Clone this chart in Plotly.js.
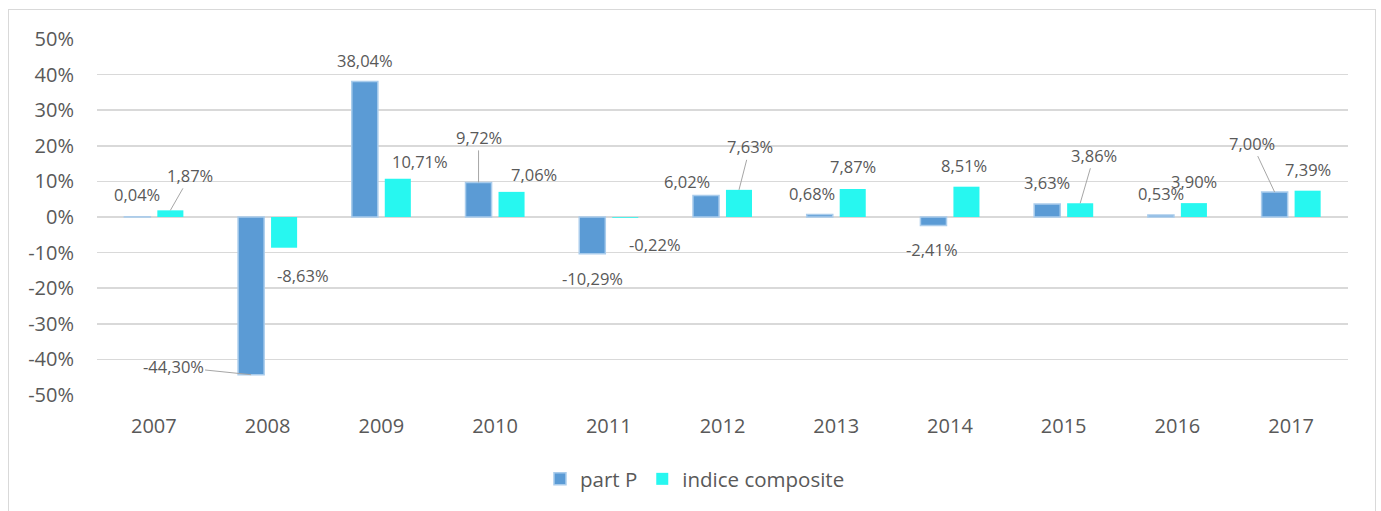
<!DOCTYPE html>
<html>
<head>
<meta charset="utf-8">
<script src="https://cdn.plot.ly/plotly-3.0.1.min.js"></script>
<style>
  html, body { margin: 0; padding: 0; background: #ffffff; }
  #frame { position: absolute; left: 8px; top: 9px; width: 1368px; height: 520px; border: 1.5px solid #D9D9D9; box-sizing: border-box; }
  #chart { position: absolute; left: 0; top: 0; width: 1381px; height: 511px; }
</style>
</head>
<body>
<div id="frame"></div>
<div id="chart"></div>
<script>
// ---- data ----
const years = ['2007','2008','2009','2010','2011','2012','2013','2014','2015','2016','2017'];
const partP = [0.04, -44.30, 38.04, 9.72, -10.29, 6.02, 0.68, -2.41, 3.63, 0.53, 7.00];
const indiceComposite = [1.87, -8.63, 10.71, 7.06, -0.22, 7.63, 7.87, 8.51, 3.86, 3.90, 7.39];
const yTicks = [-50, -40, -30, -20, -10, 0, 10, 20, 30, 40, 50];
const seriesNames = ['part P', 'indice composite'];

// ---- label placement (layout only) ----
// [ax, ay, leader]
const partPLabelPos = [[0,-22,0],[-78,-8,1],[0,-21,0],[0,-45,1],[0,25,0],[-19,-14,0],[-8,-21,0],[-1,24,0],[0,-22,0],[0,-22,0],[-23,-49,1]];
const indiceLabelPos = [[20,-35,1],[19,28,0],[22,-17,0],[22,-17,0],[30,27,0],[11,-43,1],[0,-22,0],[-2,-21,0],[14,-48,1],[0,-22,0],[0,-21,0]];

const fmt = v => v.toFixed(2).replace('.', ',') + '%';
const textColor = '#595959';
const font = 'Open Sans, Arial, sans-serif';
const idx = years.map((y, i) => i);

const traces = [
  { type: 'bar', name: seriesNames[0], x: idx, y: partP,
    marker: { color: '#5B9BD5', line: { color: '#A9CCEC', width: 1.5 } }, hoverinfo: 'none' },
  { type: 'bar', name: seriesNames[1], x: idx, y: indiceComposite,
    marker: { color: '#27F7F0', line: { width: 0 } }, hoverinfo: 'none' }
];

const annotations = [];
function addLabels(vals, pos, shift) {
  vals.forEach((v, i) => {
    const p = pos[i];
    annotations.push({
      x: i, y: v, xref: 'x', yref: 'y', xshift: shift,
      text: fmt(v), showarrow: true, arrowhead: 0, arrowwidth: 1,
      arrowcolor: p[2] ? '#A6A6A6' : 'rgba(0,0,0,0)', standoff: 0,
      ax: p[0], ay: p[1],
      font: { family: font, size: 16.5, color: textColor }
    });
  });
}
addLabels(partP, partPLabelPos, -16.5);
addLabels(indiceComposite, indiceLabelPos, 16.5);

const layout = {
  width: 1381, height: 511,
  margin: { l: 97, r: 33, t: 39, b: 116 },
  paper_bgcolor: 'rgba(0,0,0,0)', plot_bgcolor: 'rgba(0,0,0,0)',
  barmode: 'group', bargap: 0.42, bargroupgap: 0.21,
  font: { family: font, color: textColor },
  xaxis: {
    range: [-0.5, years.length - 0.5], tickvals: idx, ticktext: years,
    showgrid: false, zeroline: false, showline: false, ticks: '',
    tickfont: { family: font, size: 20, color: textColor }, ticklabelstandoff: 17
  },
  yaxis: {
    range: [-50, 50], tickvals: yTicks, ticktext: yTicks.map(v => v + '%'),
    showgrid: true, gridcolor: '#D9D9D9', gridwidth: 1.5,
    zeroline: true, zerolinecolor: '#D9D9D9', zerolinewidth: 1.5,
    showline: false, ticks: '',
    tickfont: { family: font, size: 20, color: textColor }, ticklabelstandoff: 22
  },
  showlegend: true,
  legend: { orientation: 'h', x: 0.478, xanchor: 'center', y: -0.236, yanchor: 'middle',
    font: { family: font, size: 20.5, color: textColor }, itemwidth: 30, tracegroupgap: 0 },
  annotations: annotations
};

Plotly.newPlot('chart', traces, layout, { staticPlot: true, displayModeBar: false });
</script>
</body>
</html>
